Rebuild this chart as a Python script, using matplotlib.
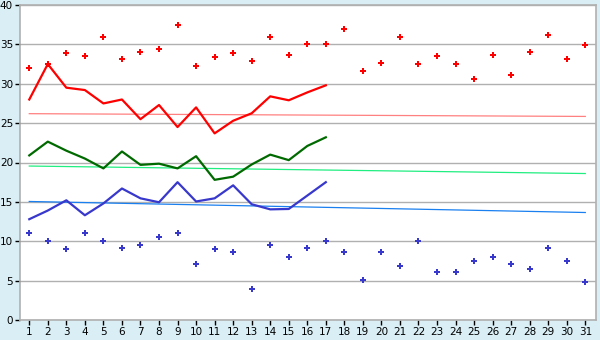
import matplotlib
matplotlib.use('Agg')
import matplotlib.pyplot as plt

DAYS = list(range(1, 32))
DAYS_LINE = list(range(1, 18))

MAX_TEMP = [32.0, 32.5, 33.9, 33.5, 36.0, 33.2, 34.0, 34.4, 37.5, 32.2,
            33.35, 33.85, 32.85, 36.0, 33.6, 35.1, 35.0, 37.0, 31.6, 32.6,
            36.0, 32.5, 33.5, 32.5, 30.55, 33.6, 31.05, 34.0, 36.15, 33.2, 34.9]
MIN_TEMP = [11.0, 10.0, 9.0, 11.0, 10.0, 9.2, 9.5, 10.6, 11.0, 7.1,
            9.0, 8.6, 4.0, 9.5, 7.95, 9.1, 10.0, 8.6, 5.05, 8.6,
            6.8, 10.0, 6.05, 6.05, 7.55, 7.95, 7.05, 6.45, 9.2, 7.45, 4.8]

RED_LINE = [28.0, 32.5, 29.5, 29.2, 27.5, 28.0, 25.5, 27.3, 24.5, 27.0,
            23.7, 25.3, 26.25, 28.4, 27.9, 28.9, 29.8]
GREEN_LINE = [20.9, 22.65, 21.5, 20.5, 19.25, 21.4, 19.7, 19.85, 19.25, 20.8,
              17.8, 18.2, 19.75, 21.0, 20.3, 22.1, 23.2]
BLUE_LINE = [12.8, 13.9, 15.2, 13.3, 14.8, 16.7, 15.45, 14.95, 17.5, 15.05,
             15.45, 17.1, 14.7, 14.05, 14.1, 15.8, 17.5]

TREND_DAYS = [1, 31]
RED_TREND = [26.2, 25.85]
GREEN_TREND = [19.55, 18.6]
BLUE_TREND = [15.05, 13.65]

BG = '#d9eef5'
GRID = '#b0b0b0'

plt.rcParams['font.family'] = 'DejaVu Sans'
plt.rcParams['font.size'] = 7.5

fig = plt.figure(figsize=(6, 3.4), dpi=100, facecolor=BG)
ax = fig.add_axes([20 / 600, 20 / 340, 575.5 / 600, 315 / 340])

ax.plot(TREND_DAYS, RED_TREND, color='#ff8080', lw=0.9, zorder=2)
ax.plot(TREND_DAYS, GREEN_TREND, color='#20ee80', lw=0.9, zorder=2)
ax.plot(TREND_DAYS, BLUE_TREND, color='#1a80f0', lw=0.9, zorder=2)

ax.plot(DAYS_LINE, RED_LINE, color='#ff0000', lw=1.6, zorder=3)
ax.plot(DAYS_LINE, GREEN_LINE, color='#006a00', lw=1.6, zorder=3)
ax.plot(DAYS_LINE, BLUE_LINE, color='#3838cc', lw=1.6, zorder=3)

ax.plot(DAYS, MAX_TEMP, linestyle='none', marker='P', markersize=4.5,
        color='#ff0000', markeredgewidth=0, zorder=4)
ax.plot(DAYS, MIN_TEMP, linestyle='none', marker='P', markersize=4.5,
        color='#3838cc', markeredgewidth=0, zorder=4)

ax.set_xlim(0.5, 31.55)
ax.set_ylim(0, 40)
ax.set_xticks(DAYS)
ax.set_yticks(range(0, 41, 5))
ax.yaxis.grid(True, color=GRID, lw=1)
ax.set_axisbelow(True)
for s in ax.spines.values():
    s.set_color(GRID)
    s.set_linewidth(1.2)
ax.tick_params(direction='out', length=3.5, width=1, color='black', pad=1.5)
ax.set_facecolor('white')

fig.savefig('out.png', dpi=100, facecolor=BG)
